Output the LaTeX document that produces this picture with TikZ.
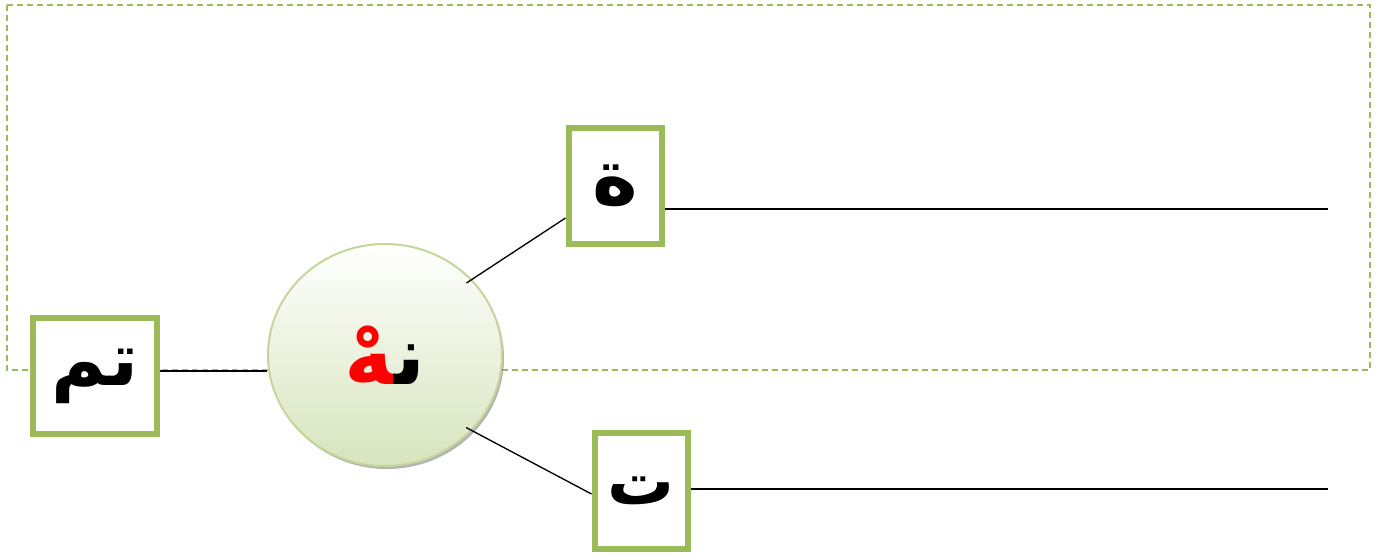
\documentclass[tikz,border=0pt]{standalone}
\usepackage{fontspec}
\usetikzlibrary{shadows,calc,shapes.geometric}
\TeXXeTstate=1
\newfontfamily\arabicfont[Script=Arabic]{DejaVu Sans Bold}
\definecolor{olive}{HTML}{9BBB59}
\definecolor{paleolive}{HTML}{C3D69B}
\definecolor{washgreen}{HTML}{D7E4BD}
\newcommand{\zwjoin}{\char"200D}
\tikzset{
  letterbox/.style={draw=olive, line width=4.5pt, fill=white, minimum width=69.75pt, minimum height=87pt, inner sep=0pt, font=\arabicfont\fontsize{50}{60}\selectfont},
  conn/.style={draw=black, line width=1pt},
  hub/.style={ellipse, draw=paleolive, line width=1.5pt, minimum width=175.5pt, minimum height=166.5pt, top color=white, bottom color=washgreen, drop shadow={shadow xshift=1.5pt, shadow yshift=-2.25pt, fill=black!50, opacity=0.6}, font=\arabicfont\fontsize{62}{70}\selectfont},
  frame/.style={draw=olive, line width=1.4pt, dash pattern=on 4.5pt off 3pt}
}
\begin{document}
\begin{tikzpicture}[x=0.75pt, y=-0.75pt]
  \useasboundingbox (0,0) rectangle (1385,556);
  % dashed frame round the upper part
  \draw[frame] (7,5) rectangle (1370,370);

  % central disc: joined syllable, final letter in red (runs set left to right)
  \node[hub] (circ) at (385,355) {\textcolor{red}{\zwjoin هْ}\textcolor{black}{ن\zwjoin}};

  % letter boxes
  \node[letterbox, minimum width=93pt, font=\arabicfont\fontsize{56}{64}\selectfont] (left) at (95,376) {\beginR تم\endR};
  \node[letterbox, font=\arabicfont\fontsize{58}{66}\selectfont] (top) at (615,186) {\beginR ة\endR};
  \node[letterbox] (bot) at (641,491) {\beginR ت\endR};

  % free ends of the writing lines
  \coordinate (topend) at (1328,209);
  \coordinate (botend) at (1328,489);

  % connectors
  \draw[conn] (left.east |- 0,371) -- (circ.west |- 0,371);
  \draw[conn, shorten <=-5pt] (circ.41) -- ([yshift=-24pt]top.west);
  \draw[conn, shorten <=-5pt] (circ.-41) -- ([yshift=-2.25pt]bot.west);
  \draw[conn] ([yshift=-17.25pt]top.east) -- (topend);
  \draw[conn] ([yshift=1.5pt]bot.east) -- (botend);
\end{tikzpicture}
\end{document}
